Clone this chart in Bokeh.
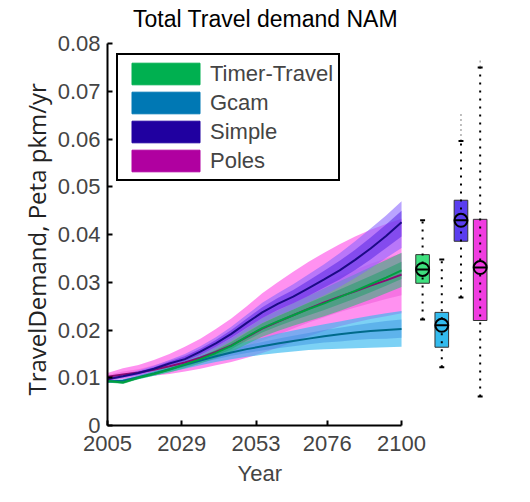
from bokeh.plotting import figure
from bokeh.models import Range1d, FixedTicker, Legend, LegendItem, ColumnDataSource, Label, Title
from bokeh.embed import file_html
from bokeh.resources import INLINE

years = [2005, 2010, 2015, 2020, 2025, 2030, 2035, 2040, 2045, 2050,
         2055, 2060, 2065, 2070, 2075, 2080, 2085, 2090, 2095, 2100]

series_names = ["Timer-Travel", "Gcam", "Simple", "Poles"]

timer_med = [0.0093, 0.0090, 0.0100, 0.0108, 0.0117, 0.0128, 0.0139, 0.0152, 0.0167, 0.0186,
             0.0204, 0.0218, 0.0231, 0.0244, 0.0256, 0.0269, 0.0282, 0.0296, 0.0310, 0.0325]
timer_lo = [0.0090, 0.0087, 0.0097, 0.0104, 0.0111, 0.0120, 0.0130, 0.0141, 0.0154, 0.0170,
            0.0186, 0.0198, 0.0209, 0.0219, 0.0229, 0.0240, 0.0252, 0.0264, 0.0277, 0.0290]
timer_hi = [0.0096, 0.0094, 0.0104, 0.0113, 0.0124, 0.0137, 0.0150, 0.0165, 0.0183, 0.0204,
            0.0225, 0.0241, 0.0256, 0.0272, 0.0287, 0.0302, 0.0317, 0.0332, 0.0347, 0.0362]
timer_ilo = [0.0091, 0.0088, 0.0098, 0.0106, 0.0114, 0.0124, 0.0134, 0.0146, 0.0160, 0.0178,
             0.0195, 0.0208, 0.0220, 0.0231, 0.0242, 0.0254, 0.0266, 0.0279, 0.0293, 0.0307]
timer_ihi = [0.0095, 0.0092, 0.0102, 0.0110, 0.0120, 0.0132, 0.0144, 0.0158, 0.0175, 0.0195,
             0.0214, 0.0229, 0.0243, 0.0257, 0.0271, 0.0285, 0.0299, 0.0313, 0.0328, 0.0343]

gcam_med = [0.0092, 0.0094, 0.0101, 0.0109, 0.0118, 0.0127, 0.0136, 0.0145, 0.0153, 0.0160,
            0.0166, 0.0172, 0.0177, 0.0182, 0.0187, 0.0191, 0.0195, 0.0198, 0.0200, 0.0202]
gcam_lo = [0.0089, 0.0091, 0.0097, 0.0104, 0.0112, 0.0119, 0.0126, 0.0133, 0.0139, 0.0144,
           0.0148, 0.0152, 0.0155, 0.0158, 0.0160, 0.0161, 0.0162, 0.0163, 0.0164, 0.0165]
gcam_hi = [0.0095, 0.0097, 0.0105, 0.0114, 0.0124, 0.0135, 0.0146, 0.0157, 0.0167, 0.0176,
           0.0184, 0.0192, 0.0199, 0.0206, 0.0212, 0.0218, 0.0224, 0.0230, 0.0235, 0.0240]
gcam_ilo = [0.0090, 0.0092, 0.0099, 0.0106, 0.0115, 0.0123, 0.0131, 0.0139, 0.0146, 0.0152,
            0.0157, 0.0162, 0.0166, 0.0170, 0.0174, 0.0176, 0.0179, 0.0181, 0.0182, 0.0184]
gcam_ihi = [0.0094, 0.0096, 0.0103, 0.0112, 0.0121, 0.0131, 0.0141, 0.0151, 0.0160, 0.0168,
            0.0175, 0.0182, 0.0188, 0.0194, 0.0200, 0.0205, 0.0210, 0.0215, 0.0219, 0.0222]

simple_med = [0.0097, 0.0103, 0.0110, 0.0119, 0.0130, 0.0139, 0.0155, 0.0172, 0.0192, 0.0215,
              0.0237, 0.0255, 0.0270, 0.0288, 0.0306, 0.0325, 0.0347, 0.0371, 0.0397, 0.0426]
simple_lo = [0.0094, 0.0099, 0.0105, 0.0113, 0.0123, 0.0133, 0.0145, 0.0160, 0.0177, 0.0197,
             0.0215, 0.0230, 0.0243, 0.0258, 0.0273, 0.0290, 0.0309, 0.0329, 0.0351, 0.0372]
simple_hi = [0.0100, 0.0107, 0.0115, 0.0125, 0.0137, 0.0150, 0.0166, 0.0185, 0.0207, 0.0232,
             0.0257, 0.0277, 0.0296, 0.0317, 0.0338, 0.0361, 0.0386, 0.0413, 0.0440, 0.0470]
simple_ilo = [0.0095, 0.0101, 0.0107, 0.0116, 0.0126, 0.0135, 0.0149, 0.0165, 0.0184, 0.0205,
              0.0225, 0.0242, 0.0256, 0.0272, 0.0289, 0.0306, 0.0326, 0.0348, 0.0372, 0.0396]
simple_ihi = [0.0099, 0.0105, 0.0113, 0.0122, 0.0134, 0.0145, 0.0161, 0.0179, 0.0200, 0.0224,
              0.0248, 0.0267, 0.0284, 0.0304, 0.0324, 0.0345, 0.0368, 0.0394, 0.0421, 0.0450]

poles_med = [0.0102, 0.0107, 0.0111, 0.0117, 0.0124, 0.0132, 0.0142, 0.0154, 0.0168, 0.0185,
             0.0203, 0.0217, 0.0231, 0.0245, 0.0258, 0.0270, 0.0281, 0.0293, 0.0304, 0.0316]
poles_lo = [0.0094, 0.0097, 0.0100, 0.0104, 0.0108, 0.0113, 0.0119, 0.0126, 0.0133, 0.0142,
            0.0152, 0.0163, 0.0175, 0.0187, 0.0198, 0.0208, 0.0216, 0.0223, 0.0229, 0.0235]
poles_hi = [0.0110, 0.0120, 0.0127, 0.0137, 0.0150, 0.0165, 0.0182, 0.0202, 0.0224, 0.0250,
            0.0277, 0.0300, 0.0322, 0.0343, 0.0362, 0.0380, 0.0396, 0.0410, 0.0422, 0.0433]
poles_ilo = [0.0098, 0.0102, 0.0105, 0.0110, 0.0116, 0.0122, 0.0130, 0.0140, 0.0151, 0.0164,
             0.0178, 0.0190, 0.0203, 0.0216, 0.0227, 0.0238, 0.0247, 0.0256, 0.0265, 0.0273]
poles_ihi = [0.0106, 0.0113, 0.0118, 0.0126, 0.0136, 0.0147, 0.0160, 0.0175, 0.0192, 0.0212,
             0.0233, 0.0250, 0.0267, 0.0284, 0.0299, 0.0313, 0.0326, 0.0339, 0.0350, 0.0361]

# 2100 distribution box plots (Timer-Travel, Gcam, Simple, Poles)
box_wlo = [0.0222, 0.0122, 0.0268, 0.0061]
box_q1 = [0.0298, 0.0164, 0.0386, 0.0220]
box_mid = [0.0327, 0.0210, 0.0430, 0.0331]
box_q3 = [0.0358, 0.0237, 0.0472, 0.0432]
box_whi = [0.0430, 0.0348, 0.0596, 0.0750]
box_max = [0.0430, 0.0348, 0.0656, 0.0770]

x_ticks = [2005, 2029, 2053, 2076, 2100]
y_ticks = [0, 0.01, 0.02, 0.03, 0.04, 0.05, 0.06, 0.07, 0.08]
y_tick_labels = ["0", "0.01", "0.02", "0.03", "0.04", "0.05", "0.06", "0.07", "0.08"]

title_text = "Total Travel demand NAM"
x_label = "Year"
y_label = "TravelDemand, Peta pkm/yr"

legend_colors = ["#00b050", "#0078b4", "#2000a0", "#b000a0"]
outer_colors = ["#22c072", "#36b8f0", "#8a66ff", "#ff48e6"]
outer_alpha = [0.55, 0.65, 0.6, 0.6]
inner_colors = ["#10a060", "#3a8ee0", "#5a28e6", "#e030c8"]
inner_alpha = [0.45, 0.45, 0.55, 0.3]
line_colors = ["#00a040", "#006a8a", "#1c0a86", "#8a0a74"]
box_colors = ["#3ee07e", "#33bbee", "#5a3ef0", "#f03ce0"]

FONT = "Liberation Sans"
NAN = float("nan")

# the frame reaches above the 0.08 tick so the title can sit inside it
p = figure(width=514, height=500, output_backend="svg", toolbar_location=None,
           x_range=Range1d(2005, 2131), y_range=Range1d(0, 0.088),
           min_border_left=107, min_border_right=17, min_border_top=5, min_border_bottom=75)
p.outline_line_color = None
p.xgrid.visible = False
p.ygrid.visible = False

data = {
    "Timer-Travel": (timer_med, timer_lo, timer_hi, timer_ilo, timer_ihi),
    "Gcam": (gcam_med, gcam_lo, gcam_hi, gcam_ilo, gcam_ihi),
    "Simple": (simple_med, simple_lo, simple_hi, simple_ilo, simple_ihi),
    "Poles": (poles_med, poles_lo, poles_hi, poles_ilo, poles_ihi),
}

draw_order = [3, 1, 0, 2]
for i in draw_order:
    name = series_names[i]
    med, lo, hi, ilo, ihi = data[name]
    src = ColumnDataSource(dict(x=years, med=med, lo=lo, hi=hi, ilo=ilo, ihi=ihi))
    p.varea(x="x", y1="lo", y2="hi", source=src, fill_color=outer_colors[i], fill_alpha=outer_alpha[i])
    p.varea(x="x", y1="ilo", y2="ihi", source=src, fill_color=inner_colors[i], fill_alpha=inner_alpha[i])
for i in draw_order:
    name = series_names[i]
    src = ColumnDataSource(dict(x=years, med=data[name][0]))
    p.line(x="x", y="med", source=src, line_color=line_colors[i], line_width=2)

# box plots to the right of the time axis
box_gap = 6.2
box_x = [2100.6 + box_gap * (k + 1) for k in range(4)]
half_w = 2.2
cap_w = 0.8
bsrc = ColumnDataSource(dict(
    x=box_x, left=[b - half_w for b in box_x], right=[b + half_w for b in box_x],
    cl=[b - cap_w for b in box_x], cr=[b + cap_w for b in box_x],
    wlo=box_wlo, q1=box_q1, mid=box_mid, q3=box_q3, whi=box_whi, mx=box_max, color=box_colors))
p.quad(left="left", right="right", bottom="q1", top="q3", source=bsrc,
       fill_color="color", line_color="#333333", line_width=1)
p.segment(x0="x", x1="x", y0="whi", y1="mx", source=bsrc, line_color="#aaaaaa",
          line_width=1.5, line_dash="2 3")
p.segment(x0="x", x1="x", y0="wlo", y1="whi", source=bsrc, line_color="black",
          line_width=2, line_dash="2 6")
p.segment(x0="cl", x1="cr", y0="wlo", y1="wlo", source=bsrc, line_color="black", line_width=2)
p.segment(x0="cl", x1="cr", y0="whi", y1="whi", source=bsrc, line_color="black", line_width=2)
p.scatter(x="x", y="mid", source=bsrc, marker="circle", size=13, fill_color="color",
          line_color="black", line_width=2)
p.scatter(x="x", y="mid", source=bsrc, marker="dash", size=13, line_color="black", line_width=2)

# legend (swatch-only renderers, nothing drawn in the plot)
items = []
for i, name in enumerate(series_names):
    r = p.quad(left=[NAN], right=[NAN], top=[NAN], bottom=[NAN], fill_color=legend_colors[i],
               line_color=legend_colors[i])
    items.append(LegendItem(label=name, renderers=[r]))
legend = Legend(items=items, location=(9, 244), label_text_font=FONT,
                label_text_font_size="22px", glyph_width=85, glyph_height=27,
                label_height=25, spacing=2, padding=5, label_standoff=2,
                border_line_color="black", border_line_width=2, border_line_alpha=1,
                background_fill_alpha=1)
p.add_layout(legend, "center")

# axes
xa = p.xaxis[0]
xa.ticker = FixedTicker(ticks=x_ticks)
xa.bounds = (x_ticks[0], x_ticks[-1])
xa.major_label_text_font = FONT
xa.major_label_text_font_size = "22px"
xa.major_label_standoff = 10
xa.axis_line_width = 2
xa.major_tick_in = 5
xa.major_tick_out = 0
xa.major_tick_line_width = 2
xa.minor_tick_line_color = None

ya = p.yaxis[0]
ya.ticker = FixedTicker(ticks=y_ticks)
ya.major_label_overrides = {t: l for t, l in zip(y_ticks, y_tick_labels)}
ya.bounds = (y_ticks[0], y_ticks[-1])
ya.major_label_text_font = FONT
ya.major_label_text_font_size = "22px"
ya.major_label_standoff = 7
ya.axis_line_width = 2
ya.major_tick_in = 5
ya.major_tick_out = 0
ya.major_tick_line_width = 2
ya.minor_tick_line_color = None

# axis titles placed as side titles so they can be shifted along their axis
p.add_layout(Title(text=y_label, align="left", offset=30, text_font="Open Sans",
                   text_font_size="24px", text_font_style="normal", text_color="#222222",
                   standoff=4), "left")
p.add_layout(Title(text=x_label, align="left", offset=130, text_font=FONT,
                   text_font_size="22px", text_font_style="normal", standoff=10), "below")

# chart title inside the (extended) frame, above the axis top
p.add_layout(Label(x=158, y=407, x_units="screen", y_units="screen", text=title_text,
                   text_font=FONT, text_font_size="23px", text_align="center",
                   text_baseline="middle", text_color="black"))

open("out.html", "w").write(file_html(p, INLINE))
